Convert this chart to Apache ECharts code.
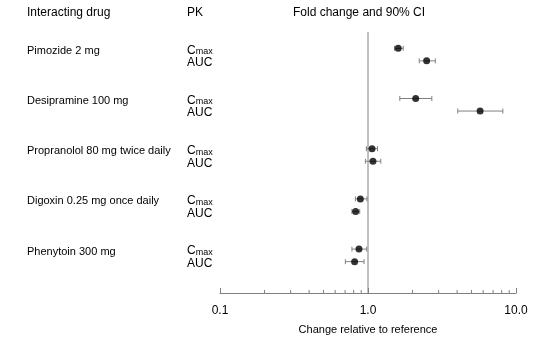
<!DOCTYPE html>
<html>
<head>
<meta charset="utf-8">
<script src="https://cdn.jsdelivr.net/npm/echarts@6/dist/echarts.min.js"></script>
<style>html,body{margin:0;padding:0;background:#fff;}#c{width:558px;height:348px;}</style>
</head>
<body>
<div id="c"></div>
<script>
const drugs = ['Pimozide 2 mg', 'Desipramine 100 mg', 'Propranolol 80 mg twice daily', 'Digoxin 0.25 mg once daily', 'Phenytoin 300 mg'];
const pkParams = ['Cmax', 'AUC'];
const cmaxEst  = [1.60, 2.10, 1.065, 0.888, 0.869];
const cmaxLow  = [1.51, 1.64, 0.975, 0.822, 0.779];
const cmaxHigh = [1.73, 2.70, 1.16, 0.984, 0.980];
const aucEst   = [2.49, 5.72, 1.08, 0.825, 0.812];
const aucLow   = [2.22, 4.04, 0.96, 0.779, 0.703];
const aucHigh  = [2.85, 8.15, 1.22, 0.879, 0.940];
const xTicks = [0.1, 1, 10];
const xTickLabels = ['0.1', '1.0', '10.0'];
const headers = ['Interacting drug', 'PK', 'Fold change and 90% CI'];
const xTitle = 'Change relative to reference';

const FONT = '"Liberation Sans", Arial, sans-serif';
const GRAY = '#808080';
const FS = 12;
const YMIN = -1.3, YMAX = 19.5;

// rows: each drug has Cmax row then AUC row
const rows = [];
drugs.forEach((d, g) => {
  rows.push({ g: g, k: 0, est: cmaxEst[g], lo: cmaxLow[g], hi: cmaxHigh[g] });
  rows.push({ g: g, k: 1, est: aucEst[g], lo: aucLow[g], hi: aucHigh[g] });
});
const rowPos = r => r.g * 4 + r.k;

// minor ticks for log axis
const minorTicks = [];
for (let dec = 0.1; dec < 10; dec *= 10) {
  for (let m = 2; m <= 9; m++) minorTicks.push(+(m * dec).toFixed(3));
}

const chart = echarts.init(document.getElementById('c'), null, { renderer: 'canvas' });

const option = {
  animation: false,
  backgroundColor: '#fff',
  grid: { left: 220, right: 42, top: 32, bottom: 55, containLabel: false },
  xAxis: {
    type: 'log', logBase: 10, min: 0.1, max: 10,
    axisLine: { onZero: false, lineStyle: { color: GRAY, width: 1 } },
    axisTick: { inside: true, length: 5, lineStyle: { color: GRAY } },
    axisLabel: {
      margin: 12, color: '#000', fontSize: 12, fontFamily: FONT,
      formatter: v => { const i = xTicks.findIndex(t => Math.abs(t - v) < 1e-9); return i >= 0 ? xTickLabels[i] : ''; }
    },
    splitLine: { show: false },
    name: xTitle, nameLocation: 'middle', nameGap: 31,
    nameTextStyle: { color: '#000', fontSize: 11, fontFamily: FONT }
  },
  yAxis: {
    type: 'value', inverse: true, min: YMIN, max: YMAX,
    show: false
  },
  graphic: [
    { type: 'text', left: 27, top: 7, style: { text: headers[0], fill: '#000', font: FS + 'px ' + FONT } },
    { type: 'text', left: 187, top: 7, style: { text: headers[1], fill: '#000', font: FS + 'px ' + FONT } },
    { type: 'text', left: 293, top: 7, style: { text: headers[2], fill: '#000', font: FS + 'px ' + FONT } }
  ],
  series: [
    { // reference line at 1 and minor ticks
      type: 'custom', silent: true, clip: false,
      data: [1],
      renderItem: (params, api) => {
        const top = api.coord([1, YMIN]);
        const bot = api.coord([1, YMAX]);
        const children = [{
          type: 'line', shape: { x1: top[0], y1: top[1], x2: bot[0], y2: bot[1] },
          style: { stroke: GRAY, lineWidth: 1 }
        }];
        minorTicks.forEach(t => {
          const p = api.coord([t, YMAX]);
          children.push({ type: 'line', shape: { x1: p[0], y1: p[1], x2: p[0], y2: p[1] - 3 }, style: { stroke: GRAY, lineWidth: 1 } });
        });
        return { type: 'group', children };
      }
    },
    { // error bars
      type: 'custom', silent: true,
      data: rows.map(r => [r.lo, rowPos(r), r.hi]),
      renderItem: (params, api) => {
        const a = api.coord([api.value(0), api.value(1)]);
        const b = api.coord([api.value(2), api.value(1)]);
        const h = 2.5;
        const st = { stroke: GRAY, lineWidth: 1 };
        return { type: 'group', children: [
          { type: 'line', shape: { x1: a[0], y1: a[1], x2: b[0], y2: b[1] }, style: st },
          { type: 'line', shape: { x1: a[0], y1: a[1] - h, x2: a[0], y2: a[1] + h }, style: st },
          { type: 'line', shape: { x1: b[0], y1: b[1] - h, x2: b[0], y2: b[1] + h }, style: st }
        ]};
      }
    },
    { // point estimates
      type: 'scatter', symbol: 'circle', symbolSize: 7, silent: true,
      itemStyle: { color: '#000' },
      data: rows.map(r => [r.est, rowPos(r)]),
      z: 5
    },
    { // row labels
      type: 'custom', silent: true, clip: false,
      data: rows.map(r => [1, rowPos(r), r.g, r.k]),
      renderItem: (params, api) => {
        const g = api.value(2), k = api.value(3);
        const p = api.coord([0.1, api.value(1)]);
        const y = p[1] + 2;
        const children = [];
        if (k === 0) {
          children.push({ type: 'text', style: { text: drugs[g], x: 27, y: y + 0.5, fill: '#000', font: '11px ' + FONT, verticalAlign: 'middle', align: 'left' } });
          children.push({ type: 'text', style: {
            text: '{c|C}{m|max}', x: 187, y: y, verticalAlign: 'middle', align: 'left',
            rich: { c: { fontSize: FS, fontFamily: FONT, fill: '#000', verticalAlign: 'bottom' },
                    m: { fontSize: 9, fontFamily: FONT, fill: '#000', verticalAlign: 'bottom' } }
          }});
        } else {
          children.push({ type: 'text', style: { text: pkParams[1], x: 187, y: y, fill: '#000', font: FS + 'px ' + FONT, verticalAlign: 'middle', align: 'left' } });
        }
        return { type: 'group', children };
      }
    }
  ]
};
chart.setOption(option);
</script>
</body>
</html>
